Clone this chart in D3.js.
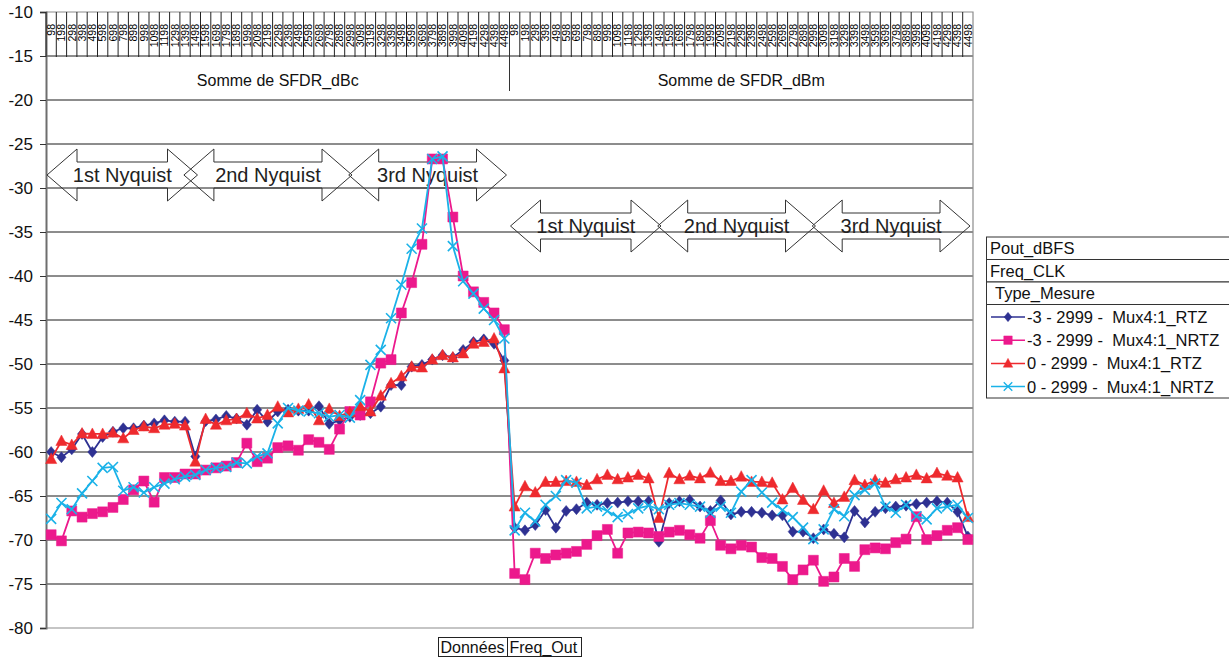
<!DOCTYPE html>
<html>
<head>
<meta charset="utf-8">
<script src="https://cdn.jsdelivr.net/npm/d3@7"></script>
<style>
  body { margin: 0; background: #fff; }
  svg { font-family: "Liberation Sans", Arial, sans-serif; }
</style>
</head>
<body>
<div id="chart"></div>
<script>
// category labels (Freq_Out) and the two data groups
const freqLabels = ["98","198","298","398","498","598","698","798","898","998",
  "1098","1198","1298","1398","1498","1598","1698","1798","1898","1998",
  "2098","2198","2298","2398","2498","2598","2698","2798","2898","2998",
  "3098","3198","3298","3398","3498","3598","3698","3798","3898","3998",
  "4098","4198","4298","4398","4498"];
const groups = ["Somme de SFDR_dBc", "Somme de SFDR_dBm"];

const seriesNames = ["-3 - 2999 -  Mux4:1_RTZ", "-3 - 2999 -  Mux4:1_NRTZ",
  "0 - 2999 -  Mux4:1_RTZ", "0 - 2999 -  Mux4:1_NRTZ"];

// -3 dBFS, RTZ
const rtzM3_dBc = [-60.0,-60.6,-59.7,-57.95,-60.0,-58.3,-57.7,-57.3,-57.3,-57.0,
  -56.75,-56.4,-56.55,-56.55,-60.5,-56.5,-56.3,-55.9,-56.2,-56.9,
  -55.2,-56.55,-55.4,-55.2,-55.3,-55.3,-54.8,-56.8,-56.4,-56.0,
  -55.8,-55.6,-54.85,-52.4,-52.4,-50.3,-50.1,-49.5,-49.0,-49.25,
  -48.4,-47.5,-47.2,-47.7,-49.6];
const rtzM3_dBm = [-68.6,-68.9,-68.3,-66.6,-68.6,-66.7,-66.5,-65.75,-66.0,-65.8,
  -65.75,-65.6,-65.6,-65.6,-70.2,-65.8,-65.6,-65.45,-66.2,-66.7,
  -65.5,-67.1,-66.8,-66.8,-66.9,-67.2,-67.2,-69.05,-69.05,-69.8,
  -68.8,-69.3,-69.7,-66.7,-68.0,-66.8,-66.4,-66.2,-66.1,-65.9,
  -65.75,-65.6,-65.75,-66.8,-69.6];

// -3 dBFS, NRTZ
const nrtzM3_dBc = [-69.4,-70.1,-66.7,-67.4,-67.0,-66.8,-66.3,-65.4,-64.3,-63.3,
  -65.7,-62.9,-62.9,-62.5,-62.5,-62.05,-61.8,-61.6,-61.2,-59.0,
  -61.1,-60.7,-59.5,-59.3,-59.8,-58.6,-58.9,-59.7,-57.4,-55.4,
  -55.8,-54.3,-49.9,-49.5,-44.2,-40.75,-36.4,-26.7,-26.7,-33.3,
  -40.0,-41.8,-43.0,-44.2,-46.1];
const nrtzM3_dBm = [-73.8,-74.5,-71.5,-72.1,-71.7,-71.5,-71.3,-70.5,-69.5,-68.8,
  -71.5,-69.2,-69.1,-69.2,-69.6,-69.1,-68.9,-69.4,-69.8,-67.8,
  -70.6,-71.0,-70.6,-70.8,-72.0,-72.1,-73.0,-74.5,-73.4,-72.3,
  -74.7,-74.2,-72.1,-73.0,-71.1,-70.9,-71.0,-70.3,-69.9,-67.35,
  -69.95,-69.5,-68.9,-68.6,-69.95];

// 0 dBFS, RTZ
const rtz0_dBc = [-60.8,-58.75,-59.2,-57.9,-57.95,-57.95,-57.8,-58.45,-57.5,-57.1,
  -57.3,-56.9,-56.8,-57.0,-61.1,-56.25,-56.9,-56.4,-56.25,-55.6,
  -56.2,-55.8,-54.85,-55.5,-55.1,-54.6,-56.4,-55.1,-55.9,-55.5,
  -54.8,-55.4,-53.6,-52.2,-51.4,-50.3,-50.4,-49.5,-49.0,-49.25,
  -48.8,-47.7,-47.5,-47.1,-50.5];
const rtz0_dBm = [-66.2,-63.9,-64.6,-63.4,-63.4,-63.3,-63.4,-63.75,-63.1,-62.6,
  -63.1,-62.9,-62.6,-63.0,-67.5,-62.4,-63.1,-62.7,-63.0,-62.35,
  -63.3,-63.3,-62.8,-63.4,-63.4,-63.5,-65.4,-64.1,-65.45,-66.5,
  -64.4,-65.8,-65.1,-63.2,-63.75,-63.2,-63.5,-63.1,-62.9,-62.6,
  -63.0,-62.4,-62.7,-62.9,-67.4];

// 0 dBFS, NRTZ
const nrtz0_dBc = [-67.6,-65.8,-66.5,-64.7,-63.3,-61.8,-61.7,-64.4,-64.0,-64.6,
  -64.0,-63.6,-63.1,-62.8,-62.6,-62.05,-61.8,-61.7,-61.2,-61.3,
  -60.5,-60.15,-56.75,-55.0,-55.3,-55.4,-55.6,-56.0,-55.8,-56.1,
  -54.1,-50.1,-48.4,-44.8,-41.0,-36.9,-34.6,-26.7,-26.4,-36.6,
  -40.6,-42.0,-43.7,-45.0,-47.1];
const nrtz0_dBm = [-68.9,-66.9,-67.9,-66.0,-65.0,-63.2,-63.5,-66.4,-66.2,-66.7,
  -67.4,-67.05,-66.4,-66.1,-66.5,-66.0,-65.8,-66.0,-66.2,-66.9,
  -66.2,-66.9,-64.5,-63.2,-64.6,-65.75,-66.6,-67.4,-68.6,-69.9,
  -68.8,-66.5,-67.3,-64.9,-64.3,-63.6,-66.2,-66.9,-66.0,-67.3,
  -67.65,-66.4,-66.2,-66.0,-67.5];

const nyquistLabels = ["1st Nyquist", "2nd Nyquist", "3rd Nyquist"];

const yTicks = [-80,-75,-70,-65,-60,-55,-50,-45,-40,-35,-30,-25,-20,-15,-10];

const width = 1229, height = 658;
const plot = { left: 46, right: 973, top: 12, bottom: 628 };

const keys = groups.flatMap(g => freqLabels.map(f => g + "|" + f));

const x = d3.scaleBand().domain(keys).range([plot.left, plot.right]).padding(0);
const y = d3.scaleLinear().domain([-80, -10]).range([plot.bottom, plot.top]);
const cx = k => x(k) + x.bandwidth() / 2;

const series = [
  { name: seriesNames[0], values: rtzM3_dBc.concat(rtzM3_dBm), color: "#2e3192", marker: "diamond" },
  { name: seriesNames[1], values: nrtzM3_dBc.concat(nrtzM3_dBm), color: "#ec198c", marker: "square" },
  { name: seriesNames[2], values: rtz0_dBc.concat(rtz0_dBm), color: "#ee2a2e", marker: "triangle" },
  { name: seriesNames[3], values: nrtz0_dBc.concat(nrtz0_dBm), color: "#1ab2e8", marker: "cross" },
];

const markerPath = {
  diamond: "M0,-5.5L4.6,0L0,5.5L-4.6,0Z",
  square: "M-5,-5H5V5H-5Z",
  triangle: "M0,-6L5.6,4.5L-5.6,4.5Z",
  cross: "M-5,-5L5,5M5,-5L-5,5",
};

const svg = d3.select("#chart").append("svg")
  .attr("width", width).attr("height", height)
  .attr("viewBox", `0 0 ${width} ${height}`);

svg.append("rect").attr("width", width).attr("height", height).attr("fill", "#fff");

// horizontal gridlines
svg.append("g").selectAll("line")
  .data(yTicks.filter(t => t > -80 && t < -10))
  .join("line")
  .attr("x1", plot.left).attr("x2", plot.right)
  .attr("y1", d => y(d)).attr("y2", d => y(d))
  .attr("stroke", "#1a1a1a").attr("stroke-width", 1);

// plot frame (top, right, bottom)
svg.append("path")
  .attr("d", `M${plot.left},${plot.top}H${plot.right}V${plot.bottom}H${plot.left}`)
  .attr("fill", "none").attr("stroke", "#8c8c8c").attr("stroke-width", 1.2);

// y axis
const yAxis = d3.axisLeft(y).tickValues(yTicks).tickSize(6).tickPadding(7).tickFormat(d => String(d));
const yg = svg.append("g").attr("transform", `translate(${plot.left},0)`).call(yAxis);
yg.select(".domain").attr("stroke", "#6e6e6e").attr("stroke-width", 2);
yg.selectAll(".tick line").attr("stroke", "#333");
yg.selectAll(".tick text").attr("font-size", 17).attr("fill", "#111")
  .attr("font-family", "Liberation Sans, Arial, sans-serif");

// category header at top of plot (multi-level labels)
const header = svg.append("g");
header.selectAll("line.cat")
  .data(keys)
  .join("line")
  .attr("class", "cat")
  .attr("x1", d => x(d)).attr("x2", d => x(d))
  .attr("y1", plot.top).attr("y2", 57)
  .attr("stroke", "#222").attr("stroke-width", 1);

header.selectAll("text.cat")
  .data(keys)
  .join("text")
  .attr("class", "cat")
  .attr("transform", d => `translate(${cx(d)},24) rotate(-90)`)
  .attr("text-anchor", "end")
  .attr("dy", "0.36em")
  .attr("font-size", 10.5)
  .attr("fill", "#000")
  .text(d => d.split("|")[1]);

// group separators and group labels
groups.forEach((g, gi) => {
  const first = x(g + "|" + freqLabels[0]);
  const last = x(g + "|" + freqLabels[freqLabels.length - 1]) + x.bandwidth();
  if (gi > 0) {
    header.append("line")
      .attr("x1", first).attr("x2", first)
      .attr("y1", plot.top).attr("y2", 91)
      .attr("stroke", "#333").attr("stroke-width", 1);
  }
  header.append("text")
    .attr("x", (first + last) / 2).attr("y", 86)
    .attr("text-anchor", "middle")
    .attr("font-size", 16)
    .attr("fill", "#111")
    .text(g);
});

// Nyquist arrows
function doubleArrow(x0, x1, cy) {
  const head = 30, shaft = 13, hh = 26;
  return `M${x0},${cy}L${x0 + head},${cy - hh}V${cy - shaft}H${x1 - head}V${cy - hh}` +
    `L${x1},${cy}L${x1 - head},${cy + hh}V${cy + shaft}H${x0 + head}V${cy + hh}Z`;
}
const arrowSpans = [
  { g: 0, from: 0, to: 14, cy: 175 },
  { g: 0, from: 13, to: 29, cy: 175 },
  { g: 0, from: 29, to: 44, cy: 175 },
  { g: 1, from: 0, to: 14, cy: 226 },
  { g: 1, from: 14, to: 29, cy: 226 },
  { g: 1, from: 29, to: 44, cy: 226 },
];
const arrows = svg.append("g");
arrowSpans.forEach((a, i) => {
  const k0 = groups[a.g] + "|" + freqLabels[a.from];
  const k1 = groups[a.g] + "|" + freqLabels[a.to];
  const x0 = x(k0) + (a.from === 0 ? 1 : 4);
  const x1 = x(k1) + x.bandwidth() - 3;
  arrows.append("path")
    .attr("d", doubleArrow(x0, x1, a.cy))
    .attr("fill", "none").attr("stroke", "#333").attr("stroke-width", 1);
  arrows.append("text")
    .attr("x", (x0 + x1) / 2).attr("y", a.cy + 7)
    .attr("text-anchor", "middle")
    .attr("font-size", 20)
    .attr("fill", "#222")
    .text(nyquistLabels[i % 3]);
});

// series lines and markers
const line = d3.line().x((d, i) => cx(keys[i])).y(d => y(d));
series.forEach(s => {
  const g = svg.append("g");
  g.append("path")
    .attr("d", line(s.values))
    .attr("fill", "none").attr("stroke", s.color).attr("stroke-width", 1.8);
  g.selectAll("path.m")
    .data(s.values)
    .join("path")
    .attr("class", "m")
    .attr("transform", (d, i) => `translate(${cx(keys[i])},${y(d)})`)
    .attr("d", markerPath[s.marker])
    .attr("fill", s.marker === "cross" ? "none" : s.color)
    .attr("stroke", s.color)
    .attr("stroke-width", s.marker === "cross" ? 1.6 : 0.5);
});

// legend (pivot field buttons)
const lg = svg.append("g").attr("font-size", 16.5).attr("fill", "#111");
const lx = 986.5, lw = 260;
const rows = [
  { label: "Pout_dBFS", y0: 237, y1: 259.5, tx: 990 },
  { label: "Freq_CLK", y0: 259.5, y1: 282, tx: 990 },
  { label: "Type_Mesure", y0: 282, y1: 304.5, tx: 995 },
];
rows.forEach(r => {
  lg.append("rect").attr("x", lx).attr("y", r.y0).attr("width", lw).attr("height", r.y1 - r.y0)
    .attr("fill", "#fff").attr("stroke", "#333").attr("stroke-width", 1);
  lg.append("text").attr("x", r.tx).attr("y", r.y1 - 5.5).text(r.label);
});
lg.append("rect").attr("x", lx).attr("y", 304.5).attr("width", lw).attr("height", 93.5)
  .attr("fill", "#fff").attr("stroke", "#333").attr("stroke-width", 1);
series.forEach((s, i) => {
  const ly = 317 + i * 23.2;
  lg.append("line").attr("x1", 991).attr("x2", 1025).attr("y1", ly).attr("y2", ly)
    .attr("stroke", s.color).attr("stroke-width", 1.5);
  lg.append("path").attr("transform", `translate(1008,${ly}) scale(0.85)`)
    .attr("d", markerPath[s.marker])
    .attr("fill", s.marker === "cross" ? "none" : s.color)
    .attr("stroke", s.color).attr("stroke-width", s.marker === "cross" ? 1.6 : 0.5);
  lg.append("text").attr("x", 1027).attr("y", ly + 6).attr("xml:space", "preserve").text(s.name);
});

// bottom field buttons
const fb = svg.append("g").attr("font-size", 16).attr("fill", "#111");
[["Données", 438.5, 507.5], ["Freq_Out", 507.5, 581.5]].forEach(([t, a, b]) => {
  fb.append("rect").attr("x", a).attr("y", 637.5).attr("width", b - a).attr("height", 19)
    .attr("fill", "#fff").attr("stroke", "#222").attr("stroke-width", 1);
  fb.append("text").attr("x", a + 2).attr("y", 652.5).text(t);
});
</script>
</body>
</html>
